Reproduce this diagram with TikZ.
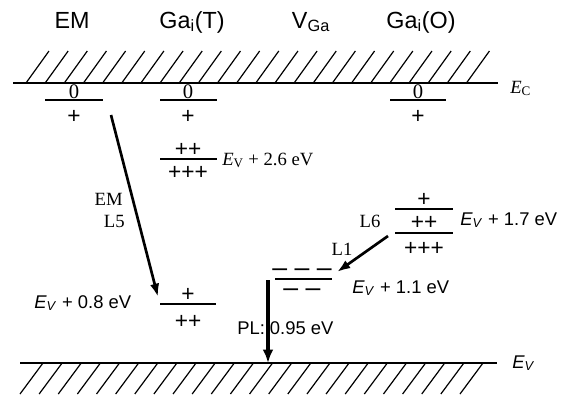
\documentclass[tikz,border=0pt]{standalone}
\usepackage{fontspec}
\setmainfont{Liberation Serif}
\newfontfamily\arial{Liberation Sans}
\usetikzlibrary{arrows.meta}

\begin{document}
\begin{tikzpicture}[
    x=0.75pt, y=-0.75pt,
    band/.style={black,line width=1.8pt},
    hatch/.style={black,line width=0.9pt},
    level/.style={black,line width=1.6pt},
    arr/.style={black,line width=2pt,-{Latex[length=10pt,width=7pt]}},
    plarr/.style={black,line width=3pt,-{Latex[length=10pt,width=8pt]}},
    title/.style={font=\arial\fontsize{17.5}{20}\selectfont,anchor=base,inner sep=0pt},
    sign/.style={font=\arial\fontsize{17}{18}\selectfont,inner sep=0pt},
    zero/.style={font=\fontsize{15.5}{17}\selectfont,inner sep=0pt},
    tlab/.style={font=\fontsize{14}{16}\selectfont,inner sep=0pt},
    alab/.style={font=\arial\fontsize{13.8}{15}\selectfont,inner sep=0pt},
    dashes/.style={font=\arial\fontsize{20}{15}\selectfont,inner sep=0pt,anchor=base,align=center},
  ]
  \useasboundingbox (0,0) rectangle (564,394);

  % defect columns
  \node[title] (em)  at (72,28)  {EM};
  \node[title] (gat) at (192,28) {Ga\textsubscript{i}(T)};
  \node[title] (vga) at (311,28) {V\textsubscript{Ga}};
  \node[title] (gao) at (421,28) {Ga\textsubscript{i}(O)};

  % conduction and valence band edges
  \draw[band] (13,83) -- (498,83);
  \foreach \i in {0,...,23}
    \draw[hatch] ({26+19.15*\i},83) -- ++(23,-32);
  \node[tlab,anchor=base west] (ec) at (510,93) {\textit{E}\textsubscript{C}};
  \draw[band] (20,363) -- (497,363);
  \foreach \i in {0,...,23}
    \draw[hatch] ({43+19.13*\i},363) -- ++(-23,31);
  \node[alab,anchor=base west] (ev) at (512,368) {\textit{E}\textsubscript{\textit{V}}};

  % levels near E_c
  \draw[level] (45,100) -- (103,100);
  \node[zero] (em0) at (74,92) {0};
  \node[sign] (em1) at (74,117) {+};
  \draw[level] (160,100) -- (217,100);
  \node[zero] (gat0) at (188,92) {0};
  \node[sign] (gat1) at (188,117) {+};
  \draw[level] (390,100) -- (446,100);
  \node[zero] (gao0) at (418,92) {0};
  \node[sign] (gao1) at (418,117) {+};

  % Ga_i(T) deep levels
  \draw[level] (160,159) -- (217,159);
  \node[sign] (gat2) at (188,150) {++};
  \node[sign] (gat3) at (188,173) {+++};
  \node[tlab,anchor=base west] (gatlab) at (222,165) {\textit{E}\textsubscript{V} + 2.6 eV};
  \draw[level] (160,304) -- (216,304);
  \node[sign] (gat4) at (188,295) {+};
  \node[sign] (gat5) at (188,322) {++};
  \node[alab,anchor=base west] (emlab) at (34,308) {\textit{E}\textsubscript{\textit{V}} + 0.8 eV};

  % Ga_i(O) deep levels
  \draw[level] (395,209) -- (453,209);
  \draw[level] (395,233) -- (453,233);
  \node[sign] (gao2) at (424,200) {+};
  \node[sign] (gao3) at (424,223) {++};
  \node[sign] (gao4) at (424,249) {+++};
  \node[alab,anchor=base west] (gaolab) at (460,225) {\textit{E}\textsubscript{\textit{V}} + 1.7 eV};

  % V_Ga level
  \draw[level] (275,279) -- (332,279);
  \node[dashes] (vgaq) at (302,296) {– – –\\– –};
  \node[alab,anchor=base west] (vgalab) at (352,293) {\textit{E}\textsubscript{\textit{V}} + 1.1 eV};

  % transitions
  \coordinate (l5from) at (111,115);
  \coordinate (l5to) at (158,297);
  \draw[arr] (l5from) -- (l5to);
  \node[tlab,anchor=base east] (l5a) at (123,205) {EM};
  \node[tlab,anchor=base east] (l5b) at (125,227) {L5};

  \coordinate (l1from) at (388,236);
  \coordinate (l1to) at (337,272);
  \draw[arr] (l1from) -- (l1to);
  \node[tlab,anchor=base] (l6) at (370,227) {L6};
  \node[tlab,anchor=base] (l1) at (342,255) {L1};

  \coordinate (plfrom) at (268,280);
  \coordinate (plto) at (268,363);
  \draw[plarr] (plfrom) -- (plto);
  \node[alab,anchor=base west] (pl) at (237,334) {PL: 0.95 eV};
\end{tikzpicture}
\end{document}
